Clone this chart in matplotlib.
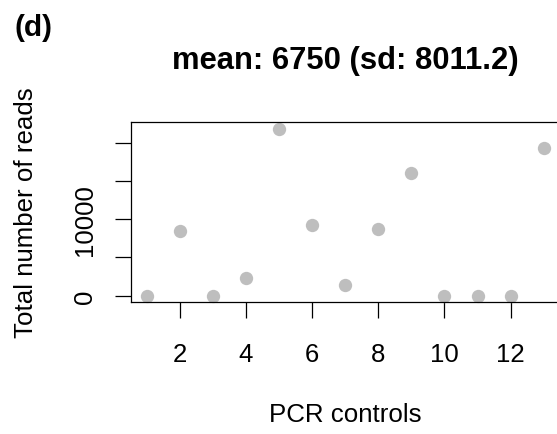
import matplotlib
matplotlib.use('Agg')
import matplotlib.pyplot as plt

# total reads per PCR control
controls = list(range(1, 14))
reads = [0, 8450, 0, 2320, 21850, 9320, 1370, 8750, 16100, 0, 0, 0, 19380]
yticks = [0, 5000, 10000, 15000, 20000]
ytick_labels = ['0', '', '10000', '', '']
xticks = [2, 4, 6, 8, 10, 12]

plt.rcParams['font.family'] = ['Liberation Sans', 'DejaVu Sans']

W, H = 557, 435
fig = plt.figure(figsize=(W / 100, H / 100), dpi=100)
ax = fig.add_axes([130.7 / W, 1 - 303.3 / H, (559.6 - 130.7) / W, (303.3 - 123.3) / H])
ax.plot(controls, reads, 'o', color='#BEBEBE', markersize=9.6, markeredgewidth=0, clip_on=False)

ax.set_xlim(0.52, 13.48)
ax.set_ylim(-0.04 * max(reads), 1.04 * max(reads))
ax.set_xticks(xticks)
ax.set_yticks(yticks)
ax.set_yticklabels(ytick_labels, rotation=90, va='center')
ax.tick_params(direction='out', length=11.5, width=0.9, labelsize=18.5)
ax.tick_params(axis='x', pad=17)
ax.tick_params(axis='y', pad=13)
for s in ax.spines.values():
    s.set_linewidth(0.9)

cx = 345 / W
fig.text(cx, 1 - 69.3 / H, 'mean: 6750 (sd: 8011.2)', fontsize=22.3, fontweight='bold',
         ha='center', va='baseline')
fig.text(cx, 1 - 422.3 / H, 'PCR controls', fontsize=18.6, ha='center', va='baseline')
fig.text(33.3 / W, 1 - 212.8 / H, 'Total number of reads', fontsize=18.6, rotation=90,
         rotation_mode='anchor', ha='center', va='baseline')
fig.text(14 / W, 1 - 14 / H, '(d)', fontsize=21.5, fontweight='bold', va='top', ha='left')

fig.savefig('out.png', dpi=100)
